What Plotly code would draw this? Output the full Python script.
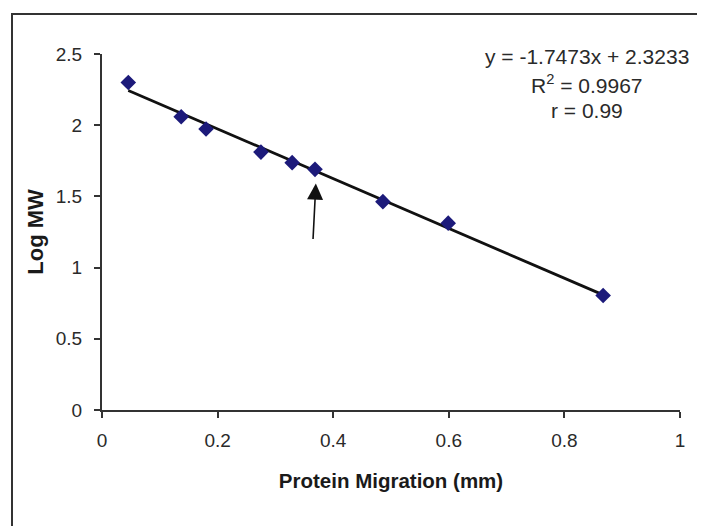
import plotly.graph_objects as go

# Data
migration = [0.0455, 0.137, 0.180, 0.275, 0.329, 0.3685, 0.486, 0.599, 0.867]
log_mw = [2.300, 2.059, 1.973, 1.811, 1.737, 1.690, 1.463, 1.312, 0.804]
slope = -1.7473
intercept = 2.3233
eq_lines = ["y = -1.7473x + 2.3233", "R<sup>2</sup> = 0.9967", "r = 0.99"]
x_ticks = [0, 0.2, 0.4, 0.6, 0.8, 1]
x_tick_labels = ["0", "0.2", "0.4", "0.6", "0.8", "1"]
y_ticks = [0, 0.5, 1, 1.5, 2, 2.5]
y_tick_labels = ["0", "0.5", "1", "1.5", "2", "2.5"]
arrow_tail = (0.365, 1.19)
arrow_head = (0.370, 1.59)

OFF = 8  # page body margin offset
W, H = 705, 526
L, T = 102 - OFF, 54 - OFF
pw, ph = 578, 356.5
R = W - L - pw
B = H - T - ph

def px_to_paper(px, py):
    # px, py are screen pixel positions in the reference picture
    fx, fy = px - OFF, py - OFF
    return (fx - L) / pw, (T + ph - fy) / ph

fit_x = [min(migration), max(migration)]
fit_y = [slope * v + intercept for v in fit_x]

font_family = "Liberation Sans, Arial, sans-serif"

fig = go.Figure()
fig.add_trace(go.Scatter(
    x=fit_x, y=fit_y, mode="lines",
    line=dict(color="#111111", width=2.8),
    showlegend=False, hoverinfo="skip",
))
fig.add_trace(go.Scatter(
    x=migration, y=log_mw, mode="markers",
    marker=dict(symbol="diamond", size=12, color="#1c1a7a",
                line=dict(width=0)),
    showlegend=False,
))

annotations = []
for i, txt in enumerate(eq_lines):
    xp, yp = px_to_paper(587, 57 + i * 27)
    annotations.append(dict(
        x=xp, y=yp, xref="paper", yref="paper", text=txt, showarrow=False,
        xanchor="center", yanchor="middle",
        font=dict(family=font_family, size=21, color="#2a2a2a"),
    ))
annotations.append(dict(
    x=arrow_head[0], y=arrow_head[1], ax=arrow_tail[0], ay=arrow_tail[1],
    xref="x", yref="y", axref="x", ayref="y", text="",
    showarrow=True, arrowhead=2, arrowsize=2, arrowwidth=1.6,
    arrowcolor="#111111", standoff=0,
))

bx0, by1 = px_to_paper(12, 14)
bx1, by0 = px_to_paper(730, 560)

fig.update_layout(
    width=W, height=H,
    margin=dict(l=L, r=R, t=T, b=B, pad=0),
    paper_bgcolor="white", plot_bgcolor="white",
    font=dict(family=font_family, size=19, color="#2a2a2a"),
    xaxis=dict(
        range=[0, 1], tickvals=x_ticks, ticktext=x_tick_labels,
        showgrid=False, zeroline=False, showline=True,
        linecolor="#333333", linewidth=2, ticks="outside", ticklen=6,
        tickwidth=2, tickcolor="#333333", ticklabelstandoff=6,
        title=dict(text="<b>Protein Migration (mm)</b>", standoff=24,
                   font=dict(size=20.5, color="#1a1a1a")),
        fixedrange=True,
    ),
    yaxis=dict(
        range=[0, 2.5], tickvals=y_ticks, ticktext=y_tick_labels,
        showgrid=False, zeroline=False, showline=True,
        linecolor="#333333", linewidth=2, ticks="outside", ticklen=6,
        tickwidth=2, tickcolor="#333333", ticklabelstandoff=8,
        title=dict(text="<b>Log MW</b>", standoff=6,
                   font=dict(size=22, color="#1a1a1a")),
        fixedrange=True,
    ),
    annotations=annotations,
    shapes=[dict(type="rect", xref="paper", yref="paper",
                 x0=bx0, y0=by0, x1=bx1, y1=by1,
                 line=dict(color="#333333", width=2), layer="below")],
)

fig.write_html("out.html")
